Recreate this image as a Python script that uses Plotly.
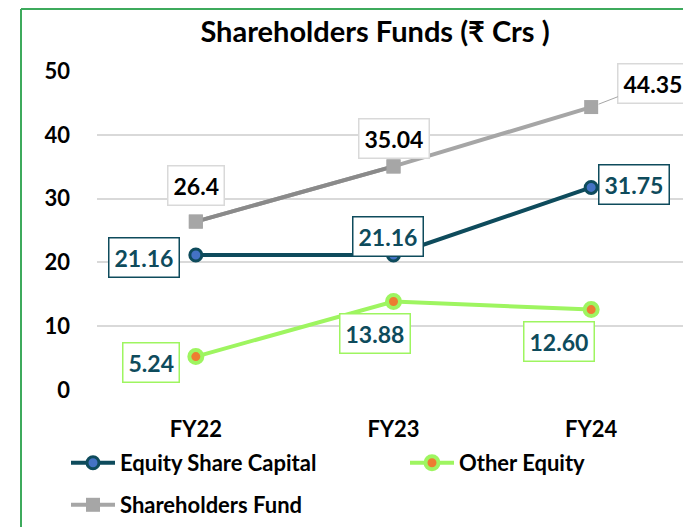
import plotly.graph_objects as go

categories = ["FY22", "FY23", "FY24"]
equity_share_capital = [21.16, 21.16, 31.75]
other_equity = [5.24, 13.88, 12.60]
shareholders_fund = [26.4, 35.04, 44.35]

esc_labels = ["21.16", "21.16", "31.75"]
oe_labels = ["5.24", "13.88", "12.60"]
sf_labels = ["26.4", "35.04", "44.35"]

FONT = "Lato"
TEAL = "#0e4b5c"
GREEN = "#9ef560"
GRAY = "#a6a6a6"
DARK_GRAY = "#8a8a8a"

# the page body has an 8px margin; work in page pixels and convert
OFF = 8

fig = go.Figure()
fig.add_trace(go.Scatter(
    x=categories, y=equity_share_capital, name="Equity Share Capital",
    mode="lines+markers",
    line=dict(color=TEAL, width=4),
    marker=dict(symbol="circle", size=12, color="#4472c4", line=dict(color=TEAL, width=3)),
    legend="legend",
))
fig.add_trace(go.Scatter(
    x=categories, y=other_equity, name="Other Equity",
    mode="lines+markers",
    line=dict(color=GREEN, width=4),
    marker=dict(symbol="circle", size=13, color="#ed7d31", line=dict(color=GREEN, width=4)),
    legend="legend2",
))
fig.add_trace(go.Scatter(
    x=categories, y=shareholders_fund, name="Shareholders Fund",
    mode="lines+markers",
    line=dict(color=GRAY, width=4),
    marker=dict(symbol="square", size=14, color=GRAY),
    legend="legend3",
))
# darker first segment of the Shareholders Fund line
fig.add_trace(go.Scatter(
    x=categories[:2], y=shareholders_fund[:2], name="Shareholders Fund",
    mode="lines+markers", showlegend=False, hoverinfo="skip",
    line=dict(color=DARK_GRAY, width=4),
    marker=dict(symbol="square", size=14, color=GRAY),
))

# label offsets (pixels) for each series
esc_off = [(-52, 2), (-6, -19), (43, -3)]
oe_off = [(-45, 6), (-19, 32), (-32, 32)]
sf_off = [(0, -36), (0, -28), (62, -24)]

def add_labels(vals, labels, offs, border, textcolor, leader=None):
    for i, (v, t, (ax, ay)) in enumerate(zip(vals, labels, offs)):
        show_leader = leader is not None and leader == i
        fig.add_annotation(
            x=categories[i], y=v, xref="x", yref="y", text=t,
            showarrow=True, ax=ax, ay=ay,
            arrowhead=0, arrowwidth=1,
            arrowcolor=GRAY if show_leader else "rgba(0,0,0,0)",
            standoff=8,
            font=dict(family=FONT, size=23, color=textcolor, weight="bold"),
            bordercolor=border, borderwidth=1.5, borderpad=5, bgcolor="white",
        )

add_labels(shareholders_fund, sf_labels, sf_off, "#d9d9d9", "#000000", leader=2)
add_labels(equity_share_capital, esc_labels, esc_off, TEAL, TEAL)
add_labels(other_equity, oe_labels, oe_off, GREEN, TEAL)

# page-pixel geometry of the plot area
L, R_END, T, B = 97, 690, 71, 390
W, H = 691 - OFF, 527

def px_x(p):
    return (p - L) / (R_END - L)

def px_y(p):
    return (B - p) / (B - T)

border_green = "#3daa5c"
fig.add_shape(type="line", xref="paper", yref="paper",
              x0=px_x(21), x1=px_x(720), y0=px_y(9), y1=px_y(9),
              line=dict(color=border_green, width=2), layer="below")
fig.add_shape(type="line", xref="paper", yref="paper",
              x0=px_x(21), x1=px_x(21), y0=px_y(9), y1=px_y(560),
              line=dict(color=border_green, width=2), layer="below")

legend_font = dict(family=FONT, size=22, color="#000000", weight="bold")

def leg(xp, yp):
    return dict(orientation="h", x=px_x(xp), xanchor="left", y=px_y(yp), yanchor="middle",
                font=legend_font, bgcolor="rgba(0,0,0,0)", itemwidth=44)

fig.update_layout(
    width=W, height=H,
    margin=dict(l=L - OFF, r=W - (R_END - OFF), t=T - OFF, b=H - (B - OFF)),
    paper_bgcolor="white", plot_bgcolor="white",
    font=dict(family=FONT, color="#000000"),
    title=dict(text="<b>Shareholders Funds (₹ Crs )</b>", x=(375 - OFF) / W, xanchor="center",
               y=1 - (32 - OFF) / H, yanchor="middle",
               font=dict(family=FONT, size=29, color="#000000")),
    xaxis=dict(range=[-0.5, 2.5], showgrid=False, zeroline=False, showline=False,
               tickfont=dict(family=FONT, size=22, color="#000000", weight="bold"),
               ticks="", ticklabelstandoff=24),
    yaxis=dict(range=[0, 50], dtick=10, showgrid=True, gridcolor="#d9d9d9", gridwidth=1.5,
               zeroline=False, showline=False,
               tickfont=dict(family=FONT, size=22, color="#000000", weight="bold"),
               ticks="", ticklabelstandoff=26),
    showlegend=True,
    legend=leg(66, 463),
    legend2=leg(405, 463),
    legend3=leg(66, 505),
)

fig.write_html("out.html")
